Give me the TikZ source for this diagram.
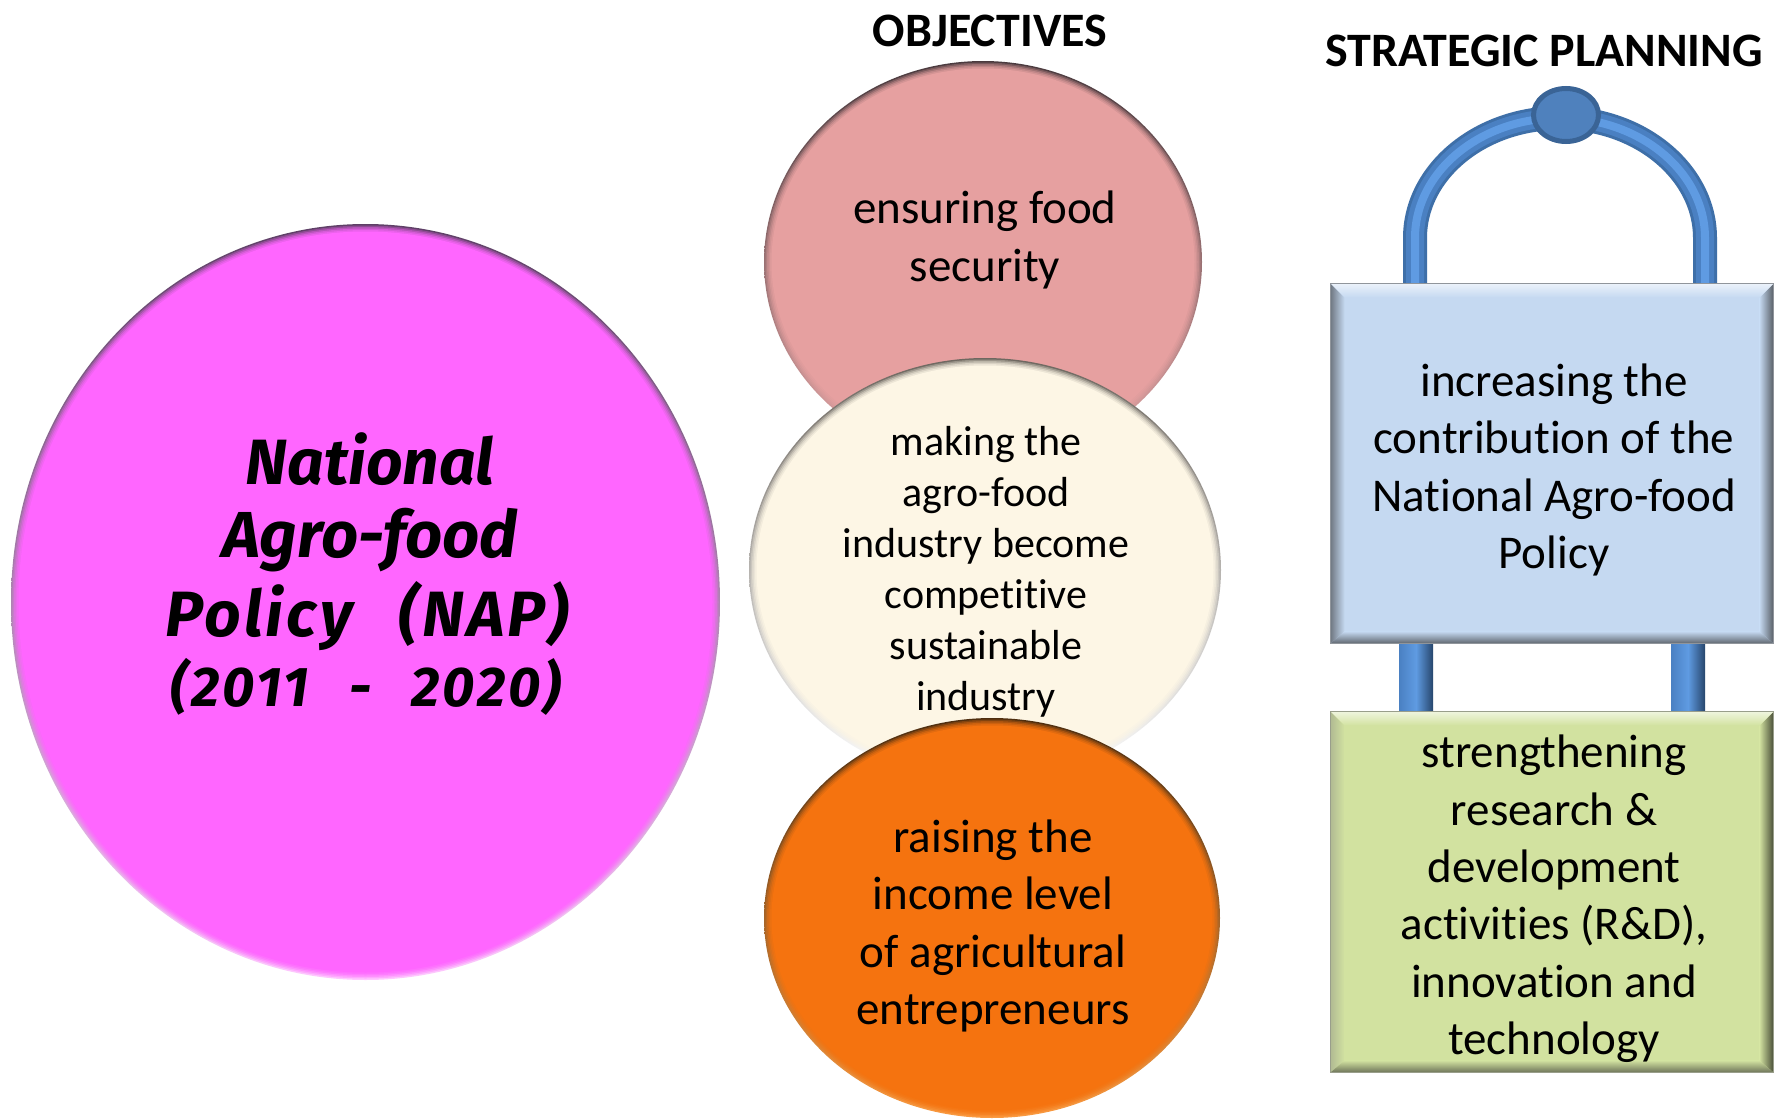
\documentclass[tikz,border=0pt]{standalone}
\usepackage{fontspec}
\setmainfont[Ligatures=NoCommon]{Carlito}
\newfontfamily\handfont[WordSpace=2.2]{Fira Sans}
\newfontfamily\handwide[WordSpace=2.6,LetterSpace=5]{Fira Sans}
\usetikzlibrary{shapes.geometric,calc}
\definecolor{pinkbase}{HTML}{FF66FF}
\definecolor{pinkdark}{HTML}{5E3F66}
\definecolor{pinklight}{HTML}{FFC8FF}
\definecolor{rosebase}{HTML}{E6A0A0}
\definecolor{rosedark}{HTML}{4A3A3E}
\definecolor{roselight}{HTML}{E8A8A8}
\definecolor{creambase}{HTML}{FDF6E5}
\definecolor{creamdark}{HTML}{6E6860}
\definecolor{creamlight}{HTML}{FFFFFF}
\definecolor{orangebase}{HTML}{F5730F}
\definecolor{orangedark}{HTML}{4E2E10}
\definecolor{orangelight}{HTML}{FB9A40}
\definecolor{boxblue}{HTML}{C5D9F1}
\definecolor{boxgreen}{HTML}{D2E2A0}
\definecolor{tubedark}{HTML}{3E6FA8}
\definecolor{tubemid}{HTML}{4A80C2}
\definecolor{tubelight}{HTML}{5F9BE2}
\definecolor{tubeshade}{HTML}{27466C}
\definecolor{handlefill}{HTML}{4F81BD}
\definecolor{handleline}{HTML}{3A6496}
\tikzset{
  x=0.5pt,y=-0.5pt,
  labeltext/.style={align=center,inner sep=0pt,text=black},
  bigtext/.style={labeltext,font=\fontsize{23.5}{28.7}\selectfont},
  smalltext/.style={labeltext,font=\fontsize{21}{25.5}\selectfont},
  titletext/.style={inner sep=0pt,font=\fontsize{24}{28}\selectfont\bfseries},
  handbig/.style={labeltext,font=\handfont\bfseries\itshape\fontsize{#1}{#1}\selectfont},
  handspread/.style={labeltext,font=\handwide\bfseries\itshape\fontsize{#1}{#1}\selectfont},
  boxnode/.style={rectangle,inner sep=0pt,minimum width=221pt},
}
% name, cx, cy, rx, ry, base, dark, light, shading angle
\newcommand{\orb}[9]{%
  \node[ellipse,inner sep=0pt,minimum width=#4pt,minimum height=#5pt,
        shade,shading angle=#9,top color=#7,bottom color=#8] (#1) at (#2,#3) {};
  \foreach \t/\o in {1.5/.3,3/.35,4.5/.45,6/.55}{
    \fill[#6,opacity=\o] (#2,#3) ellipse [x radius=#4-\t,y radius=#5-\t];
  }
  \fill[#6] (#2,#3) ellipse [x radius=#4-7.5,y radius=#5-7.5];
}
% bevel of a box node: name, base, top light, left, right, bottom
\newcommand{\bevel}[6]{%
  \coordinate (#1nw) at ([shift={(14,14)}]#1.north west);
  \coordinate (#1ne) at ([shift={(-14,14)}]#1.north east);
  \coordinate (#1sw) at ([shift={(14,-12)}]#1.south west);
  \coordinate (#1se) at ([shift={(-14,-12)}]#1.south east);
  \shade[left color=#4,right color=#2] (#1.north west) -- (#1nw) -- (#1sw) -- (#1.south west) -- cycle;
  \shade[left color=#2,right color=#5] (#1.north east) -- (#1ne) -- (#1se) -- (#1.south east) -- cycle;
  \shade[top color=#3,bottom color=#2] (#1.north west) -- (#1.north east) -- (#1ne) -- (#1nw) -- cycle;
  \shade[top color=#2,bottom color=#6] (#1.south west) -- (#1.south east) -- (#1se) -- (#1sw) -- cycle;
  \draw[#6!70!white,line width=0.6pt] (#1.north west) rectangle (#1.south east);
}
\begin{document}
\begin{tikzpicture}
\useasboundingbox (0,0) rectangle (1774,1119);
\fill[white] (0,0) rectangle (1774,1119);

% big circle
\orb{nap}{365.5}{602}{354.5}{378}{pinkbase}{pinkdark}{pinklight}{-60}{}
\node[handbig=32] (t1) at (370,459) {National};
\node[handbig=32.5] (t2) at (370,540) {Agro-food};
\node[handspread=32] (t3) at (367,616) {Policy (NAP)};
\node[handspread=28] (t4) at (366,687) {(2011 - 2020)};

% objectives
\node[titletext] (objt) at (990,31) {OBJECTIVES};
\orb{obja}{983}{262}{219}{201}{rosebase}{rosedark}{roselight}{-75}{}
\node[bigtext] (objat) at (985,240) {ensuring food\\security};
\orb{objb}{985}{570}{236}{212}{creambase}{creamdark}{creamlight}{-130}{}
\node[smalltext] (objbt) at (986,572) {making the\\agro-food\\industry become\\competitive\\sustainable\\industry};
\orb{objc}{992}{918}{228}{200}{orangebase}{orangedark}{orangelight}{-120}{}
\node[bigtext] (objct) at (993,926) {raising the\\income level\\of agricultural\\entrepreneurs};

% strategic planning
\node[titletext] (stratt) at (1544,51) {STRATEGIC PLANNING};
\node[boxnode,fill=boxblue,minimum height=179.5pt] (blue) at (1552,463.5) {};
\node[boxnode,fill=boxgreen,minimum height=180pt] (green) at (1552,892) {};

\coordinate (al) at (1415,0 |- blue.north);
\coordinate (ar) at (1705,0 |- blue.north);
\coordinate (als) at (1415,238);
\coordinate (ars) at (1705,238);
\coordinate (atop) at (1560,118);
\foreach \w/\c in {12pt/tubedark,9pt/tubemid,4pt/tubelight}{
  \draw[\c,line width=\w] (al) -- (als)
    .. controls (1415,172) and (1480,118) .. (atop)
    .. controls (1640,118) and (1705,172) .. (ars) -- (ar);
}
\node[ellipse,draw=handleline,fill=handlefill,line width=2.5pt,inner sep=0pt,
      minimum width=32.5pt,minimum height=26.5pt] (handle) at (1566,115) {};

\shade[left color=tubemid,right color=tubeshade,middle color=tubelight]
  (1399,0 |- blue.south) rectangle (1433,0 |- green.north);
\shade[left color=tubemid,right color=tubeshade,middle color=tubelight]
  (1671,0 |- blue.south) rectangle (1705,0 |- green.north);

\bevel{blue}{boxblue}{boxblue!35!white}{boxblue!55!black!80!gray}{boxblue!40!black!80!gray}{boxblue!45!black!80!gray}
\bevel{green}{boxgreen}{boxgreen!35!white}{boxgreen!60!gray}{boxgreen!35!black}{boxgreen!50!black!80!gray}

\node[bigtext] (bluet) at (1554,470) {increasing the\\contribution of the\\National Agro-food\\Policy};
\node[bigtext] (greent) at (1554,899) {strengthening\\research \&\\development\\activities (R\&D),\\innovation and\\technology};
\end{tikzpicture}
\end{document}
